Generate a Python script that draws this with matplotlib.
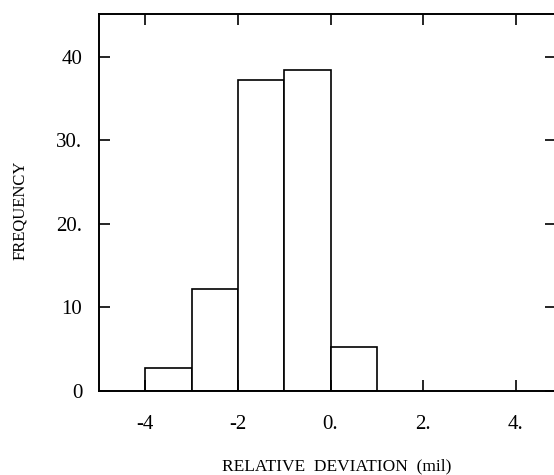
import numpy as np
import matplotlib.pyplot as plt

plt.rcParams['font.family'] = ['Liberation Serif', 'DejaVu Serif']

# histogram bins (relative deviation, mil) and counts
bin_edges = [-4, -3, -2, -1, 0, 1]
counts = [2.8, 12.2, 37.2, 38.4, 5.2]

x_ticks = [-4, -2, 0, 2, 4]
x_labels = ["-4", "-2", "0.", "2.", "4."]
y_ticks = [0, 10, 20, 30, 40]
y_labels = ["0", "10", "20.", "30.", "40"]


def main():
    fig = plt.figure(figsize=(5.54, 4.75), dpi=100)
    # right spine sits just past the image edge, as in the scan
    ax = fig.add_axes([0.1787, 0.177, 0.825, 0.7935])

    lefts = np.array(bin_edges[:-1])
    widths = np.diff(bin_edges)
    ax.bar(lefts, counts, width=widths, align='edge', facecolor='white',
           edgecolor='black', linewidth=1.2)

    ax.set_xlim(-5.0, 4.87)
    ax.set_ylim(0, 45.1)

    ax.set_xticks(x_ticks)
    ax.set_xticklabels(x_labels)
    ax.set_yticks(y_ticks)
    ax.set_yticklabels(y_labels)

    ax.tick_params(axis='both', direction='in', length=8, width=1.2,
                   labelsize=15, top=True, right=True)
    ax.tick_params(axis='x', pad=17)
    ax.tick_params(axis='y', pad=12)

    for s in ax.spines.values():
        s.set_linewidth(1.4)

    ax.set_ylabel("FREQUENCY", fontsize=12, va='center')
    ax.yaxis.set_label_coords(-0.172, 0.48)
    ax.set_xlabel("RELATIVE  DEVIATION  (mil)", fontsize=12.5, va='center')
    ax.xaxis.set_label_coords(0.52, -0.2)

    fig.savefig("out.png", dpi=100)


if __name__ == "__main__":
    main()
